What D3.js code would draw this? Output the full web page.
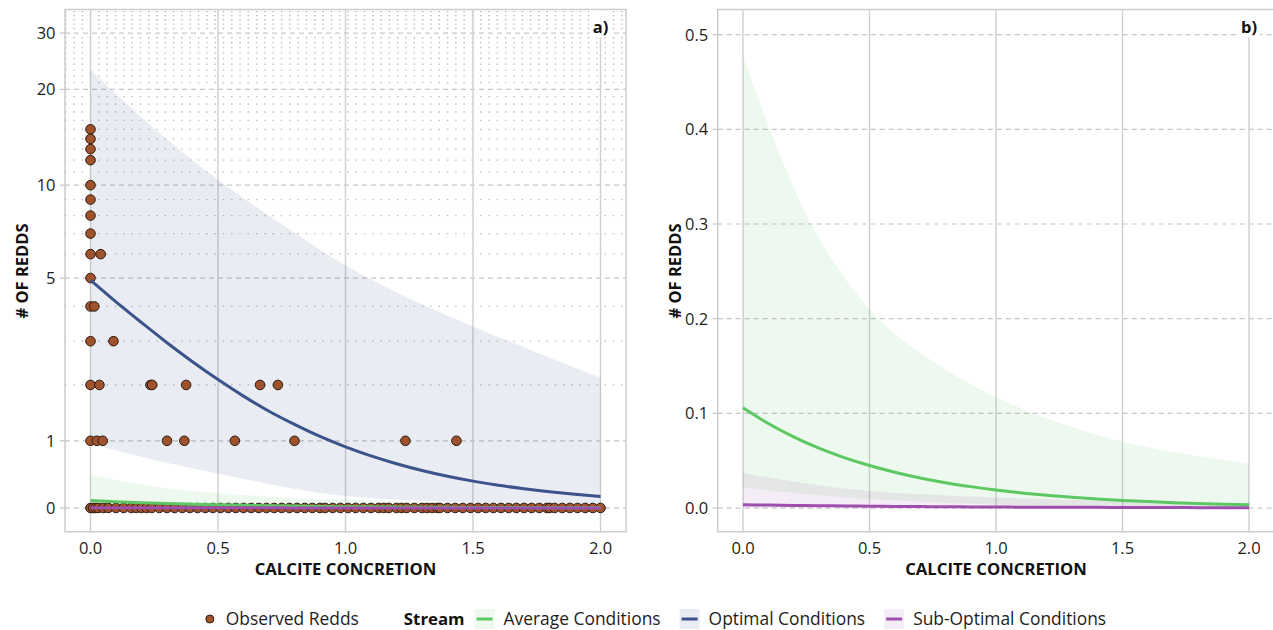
<!DOCTYPE html>
<html><head><meta charset="utf-8">
<script src="https://cdn.jsdelivr.net/npm/d3@7"></script>
<style>
body{margin:0;background:#fff;}
text{font-family:"Open Sans",sans-serif;}
</style></head>
<body><svg id="chart" width="1273" height="630"></svg>
<script>
// ---------------- data ----------------
const lineX = [0,0.1,0.2,0.3,0.4,0.5,0.6,0.7,0.8,0.9,1.0,1.1,1.2,1.3,1.4,1.5,1.6,1.7,1.8,1.9,2.0];
const optimalFit = [4.92,4.15,3.51,2.96,2.50,2.11,1.78,1.50,1.27,1.07,0.904,0.763,0.644,0.544,0.459,0.387,0.327,0.276,0.233,0.197,0.166];
const averageFit = [0.106,0.0893,0.0752,0.0633,0.0533,0.0449,0.0378,0.0318,0.0268,0.0226,0.0190,0.0160,0.0135,0.0113,0.0095,0.0080,0.0068,0.0057,0.0048,0.0040,0.0034];
const subOptFit = [0.0035,0.0031,0.0027,0.0024,0.0022,0.0019,0.0017,0.0015,0.0013,0.0012,0.0011,0.0009,0.0008,0.0007,0.0007,0.0006,0.0005,0.0005,0.0004,0.0004,0.0003];

const bandX = [0,0.25,0.5,0.75,1.0,1.25,1.5,1.75,2.0];
const optimalLow  = [0.96,0.70,0.50,0.31,0.17,0.11,0.075,0.05,0.035];
const optimalHigh = [23.0,15.1,10.4,7.5,5.5,4.26,3.40,2.72,2.15];
const averageLow  = [0.022,0.0145,0.0095,0.006,0.0037,0.0022,0.0013,0.0008,0.0005];
const averageHigh = [0.477,0.31,0.21,0.155,0.117,0.090,0.070,0.057,0.047];
const subOptLow   = [0.0003,0.0002,0.0001,0.0001,0.0001,0,0,0,0];
const subOptHigh  = [0.037,0.026,0.018,0.014,0.011,0.009,0.007,0.006,0.005];

// observed redds (calcite, count)
const reddX = [0,0,0,0,0,0,0,0,0,0.04,0,0,0.015,0,0.09,0,0.035,0.235,0.242,0.375,0.665,0.735,0,0.025,0.048,0.30,0.368,0.566,0.80,1.235,1.435];
const reddY = [15,14,13,12,10,9,8,7,6,6,5,4,4,3,3,2,2,2,2,2,2,2,1,1,1,1,1,1,1,1,1];
const zeroReddX = [0,0.01,0.02,0.03,0.05,0.07,0.1,0.13,0.16,0.18,0.2,0.22,0.24,0.27,0.3,0.33,0.36,0.39,0.42,0.45,0.48,0.51,0.54,0.57,0.6,0.63,0.66,0.69,0.72,0.75,0.78,0.81,0.84,0.87,0.9,0.92,0.95,0.98,1.01,1.04,1.07,1.1,1.13,1.15,1.17,1.2,1.22,1.24,1.27,1.3,1.32,1.34,1.36,1.37,1.4,1.43,1.46,1.49,1.52,1.55,1.58,1.61,1.64,1.67,1.7,1.73,1.76,1.79,1.8,1.82,1.85,1.88,1.91,1.94,1.97,2.0];

const xTicks = [0,0.5,1,1.5,2];
const xTickLabels = ["0.0","0.5","1.0","1.5","2.0"];
const leftYTicks = [0,1,5,10,20,30];
const leftYTickLabels = ["0","1","5","10","20","30"];
const leftMinor = [2,3,4,6,7,8,9,11,12,13,14,15,16,17,18,19,21,22,23,24,25,26,27,28,29,31,32,33,34,35];
const rightYTicks = [0,0.1,0.2,0.3,0.4,0.5];
const rightYTickLabels = ["0.0","0.1","0.2","0.3","0.4","0.5"];

const seriesNames = ["Average Conditions","Optimal Conditions","Sub-Optimal Conditions"];
const colors = {"Average Conditions":"#5DC863","Optimal Conditions":"#3B528B","Sub-Optimal Conditions":"#9E4FAE"};
const pointFill = "#A0522D";

// ---------------- drawing ----------------
const svg = d3.select("#chart");
const plotTop = 9.5, plotBottom = 531.7;

function panel(opts){
  const g = svg.append("g");
  const x = d3.scaleLinear().domain([-0.1,2.1]).range([opts.x0,opts.x1]);
  const yl = d3.scaleLinear().domain(opts.ydom).range([plotBottom,plotTop]);
  const y = v => yl(opts.tf(v));
  const clipId = "clip"+opts.id;
  svg.append("clipPath").attr("id",clipId).append("rect")
    .attr("x",opts.x0).attr("y",plotTop).attr("width",opts.x1-opts.x0).attr("height",plotBottom-plotTop);
  const pg = g.append("g").attr("clip-path",`url(#${clipId})`);
  (opts.minor||[]).forEach(v=>{
    pg.append("line").attr("x1",opts.x0).attr("x2",opts.x1).attr("y1",y(v)).attr("y2",y(v))
      .attr("stroke","#bdbdbd").attr("stroke-width",1.3).attr("stroke-dasharray","1.5,6.8");
  });
  opts.yticks.forEach(v=>{
    pg.append("line").attr("x1",opts.x0).attr("x2",opts.x1).attr("y1",y(v)).attr("y2",y(v))
      .attr("stroke","#c6c6c6").attr("stroke-width",1.2).attr("stroke-dasharray","5,4");
  });
  xTicks.forEach(v=>{
    pg.append("line").attr("x1",x(v)).attr("x2",x(v)).attr("y1",plotTop).attr("y2",plotBottom)
      .attr("stroke","#cfcfcf").attr("stroke-width",1.4);
  });
  const bands = [];
  if(opts.showOptimal) bands.push(["Optimal Conditions",optimalLow,optimalHigh]);
  bands.push(["Average Conditions",averageLow,averageHigh]);
  bands.push(["Sub-Optimal Conditions",subOptLow,subOptHigh]);
  bands.forEach(([n,lo,hi])=>{
    const area = d3.area().x((d,i)=>x(bandX[i])).y0((d,i)=>y(lo[i])).y1((d,i)=>y(hi[i])).curve(d3.curveMonotoneX);
    pg.append("path").attr("d",area(bandX)).attr("fill",colors[n]).attr("fill-opacity",0.11);
  });
  if(opts.showPoints){
    zeroReddX.forEach(v=>{
      pg.append("circle").attr("cx",x(v)).attr("cy",y(0)).attr("r",4.8)
        .attr("fill",pointFill).attr("stroke","#2a1a10").attr("stroke-width",1);
    });
    reddX.forEach((v,i)=>{
      pg.append("circle").attr("cx",x(v)).attr("cy",y(reddY[i])).attr("r",4.8)
        .attr("fill",pointFill).attr("stroke","#2a1a10").attr("stroke-width",1);
    });
  }
  const fits = [];
  if(opts.showOptimal) fits.push(["Optimal Conditions",optimalFit]);
  fits.push(["Average Conditions",averageFit]);
  fits.push(["Sub-Optimal Conditions",subOptFit]);
  fits.forEach(([n,arr])=>{
    const line = d3.line().x((d,i)=>x(lineX[i])).y((d,i)=>y(arr[i])).curve(d3.curveMonotoneX);
    pg.append("path").attr("d",line(lineX)).attr("fill","none").attr("stroke",colors[n]).attr("stroke-width",3);
  });
  g.append("rect").attr("x",opts.x0).attr("y",plotTop).attr("width",opts.x1-opts.x0).attr("height",plotBottom-plotTop)
    .attr("fill","none").attr("stroke","#cccccc").attr("stroke-width",1.5);
  opts.yticks.forEach((v,i)=>{
    g.append("line").attr("x1",opts.x0-5).attr("x2",opts.x0).attr("y1",y(v)).attr("y2",y(v))
      .attr("stroke","#c6c6c6").attr("stroke-width",1.2);
    g.append("text").attr("x",opts.x0-9.5).attr("y",y(v)).attr("dy","0.36em")
      .attr("text-anchor","end").attr("font-size",16.5).attr("fill","#1e1e1e").text(opts.ylabels[i]);
  });
  xTicks.forEach((v,i)=>{
    g.append("text").attr("x",x(v)).attr("y",554).attr("text-anchor","middle")
      .attr("font-size",16.5).attr("fill","#1e1e1e").text(xTickLabels[i]);
  });
  g.append("text").attr("x",(x(0)+x(2))/2).attr("y",575).attr("text-anchor","middle")
    .attr("font-size",16.7).attr("font-weight","bold").attr("fill","#111").text("CALCITE CONCRETION");
  g.append("text").attr("transform",`translate(${opts.x0-37},271) rotate(-90)`).attr("text-anchor","middle")
    .attr("font-size",16.5).attr("font-weight","bold").attr("fill","#111").text("# OF REDDS");
  const cx = x(2);
  g.append("rect").attr("x",cx-11).attr("y",plotTop+1).attr("width",22).attr("height",27).attr("fill","#fff");
  g.append("text").attr("x",cx).attr("y",33).attr("text-anchor","middle").attr("font-size",16.5)
    .attr("font-weight","bold").attr("fill","#111").text(opts.tag);
}

panel({id:"a",x0:65,x1:626,ydom:[-0.17,3.571],tf:v=>Math.asinh(v/2),
  yticks:leftYTicks,ylabels:leftYTickLabels,minor:leftMinor,showOptimal:true,showPoints:true,tag:"a)"});
panel({id:"b",x0:717.7,x1:1274.3,ydom:[-0.025,0.5266],tf:v=>v,
  yticks:rightYTicks,ylabels:rightYTickLabels,minor:[],showOptimal:false,showPoints:false,tag:"b)"});

// ---------------- legend ----------------
const lg = svg.append("g");
const ly = 619;
const c0 = lg.append("circle").attr("cy",ly).attr("r",4).attr("fill",pointFill).attr("stroke","#2a1a10").attr("stroke-width",1);
const t0 = lg.append("text").attr("y",ly).attr("dy","0.35em").attr("font-size",17.4).attr("fill","#1e1e1e").text("Observed Redds");
const t1 = lg.append("text").attr("y",ly).attr("dy","0.35em").attr("font-size",16.8).attr("font-weight","bold").attr("fill","#111").text("Stream");
let xpos = 0;
const layout = [];
layout.push({el:c0,type:"c",x:xpos+4}); xpos += 8+12;
layout.push({el:t0,type:"t",x:xpos}); xpos += t0.node().getComputedTextLength()+45;
layout.push({el:t1,type:"t",x:xpos}); xpos += t1.node().getComputedTextLength()+10;
seriesNames.forEach((n,i)=>{
  const kg = lg.append("g");
  kg.append("rect").attr("y",ly-10).attr("width",20).attr("height",20).attr("fill",colors[n]).attr("fill-opacity",0.11);
  kg.append("line").attr("x1",2).attr("x2",18).attr("y1",ly).attr("y2",ly).attr("stroke",colors[n]).attr("stroke-width",3);
  layout.push({el:kg,type:"g",x:xpos}); xpos += 20+9;
  const tt = lg.append("text").attr("y",ly).attr("dy","0.35em").attr("font-size",17.4).attr("fill","#1e1e1e").text(n);
  layout.push({el:tt,type:"t",x:xpos}); xpos += tt.node().getComputedTextLength() + (i<2?19:0);
});
const total = xpos;
const start = 656 - total/2;
layout.forEach(l=>{
  if(l.type==="c") l.el.attr("cx",start+l.x);
  else if(l.type==="t") l.el.attr("x",start+l.x);
  else l.el.attr("transform",`translate(${start+l.x},0)`);
});
</script></body></html>
